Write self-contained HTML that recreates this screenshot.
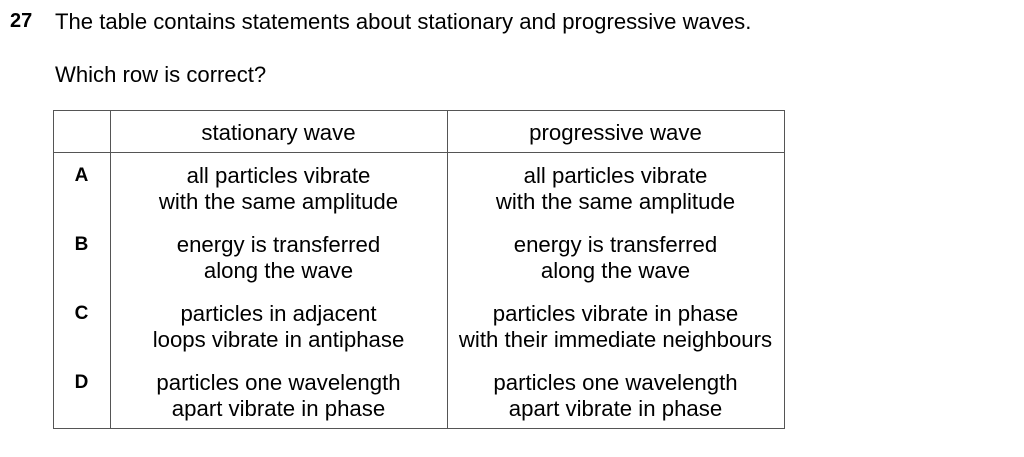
<!DOCTYPE html>
<html><head><meta charset="utf-8"><style>
body{margin:0;width:1024px;height:457px;background:#fff;font-family:"Liberation Sans",Arial,sans-serif;color:#000;position:relative;overflow:hidden}
.t{position:absolute;font-size:22.1px;white-space:nowrap;line-height:25px}
.c{position:absolute;text-align:center;font-size:22.2px;line-height:25.5px;white-space:nowrap}
.l{position:absolute;background:#555}
.b{font-weight:bold}
</style></head><body>
<div class="t b" style="left:10px;top:9px;font-size:20px">27</div>
<div class="t" style="left:55px;top:9px">The table contains statements about stationary and progressive waves.</div>
<div class="t" style="left:55px;top:62px">Which row is correct?</div>
<div>
<div class="l" style="left:53px;top:110px;width:732px;height:1px"></div>
<div class="l" style="left:53px;top:152px;width:732px;height:1px"></div>
<div class="l" style="left:53px;top:428px;width:732px;height:1px"></div>
<div class="l" style="left:53px;top:110px;width:1px;height:319px"></div>
<div class="l" style="left:110px;top:110px;width:1px;height:319px"></div>
<div class="l" style="left:447px;top:110px;width:1px;height:319px"></div>
<div class="l" style="left:784px;top:110px;width:1px;height:319px"></div>
<div class="c" style="left:110px;width:337px;top:120px">stationary wave</div>
<div class="c" style="left:447px;width:337px;top:120px">progressive wave</div>

<div class="c b" style="left:53px;width:57px;top:163px;font-size:19px">A</div>
<div class="c" style="left:110px;width:337px;top:163px">all particles vibrate<br>with the same amplitude</div>
<div class="c" style="left:447px;width:337px;top:163px">all particles vibrate<br>with the same amplitude</div>

<div class="c b" style="left:53px;width:57px;top:232px;font-size:19px">B</div>
<div class="c" style="left:110px;width:337px;top:232px">energy is transferred<br>along the wave</div>
<div class="c" style="left:447px;width:337px;top:232px">energy is transferred<br>along the wave</div>

<div class="c b" style="left:53px;width:57px;top:301px;font-size:19px">C</div>
<div class="c" style="left:110px;width:337px;top:301px">particles in adjacent<br>loops vibrate in antiphase</div>
<div class="c" style="left:447px;width:337px;top:301px">particles vibrate in phase<br>with their immediate neighbours</div>

<div class="c b" style="left:53px;width:57px;top:370px;font-size:19px">D</div>
<div class="c" style="left:110px;width:337px;top:370px">particles one wavelength<br>apart vibrate in phase</div>
<div class="c" style="left:447px;width:337px;top:370px">particles one wavelength<br>apart vibrate in phase</div>
</div>
</body></html>
